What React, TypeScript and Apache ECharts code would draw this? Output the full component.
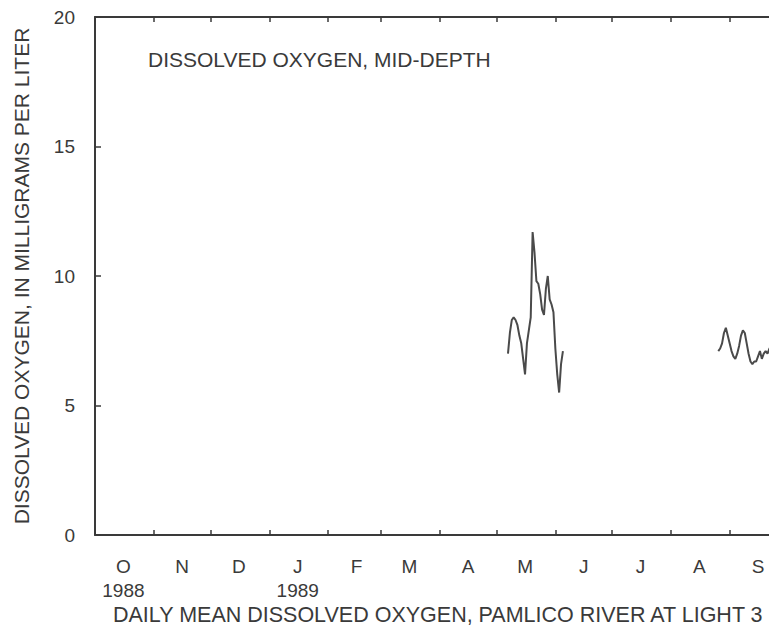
import React, { useEffect, useRef } from "react";
import * as echarts from "echarts";

// Water year axis: Oct 1 1988 .. Sep 26 1989 (daily categories)
const axisStart = "1988-10-01";
const axisDays = 361;
const monthLetters = ["J", "F", "M", "A", "M", "J", "J", "A", "S", "O", "N", "D"];
const yearLabels: Record<string, string> = { "1988-10": "1988", "1989-01": "1989" };
const yTicks = [0, 5, 10, 15, 20];

// Daily mean dissolved oxygen, mg/L
const seg1Start = "1989-05-07";
const seg1Values = [
  7.0, 7.8, 8.3, 8.4, 8.3, 8.1, 7.7, 7.4, 6.8, 6.2, 7.4, 7.9, 8.4, 11.7, 10.9,
  9.8, 9.7, 9.3, 8.7, 8.5, 9.5, 10.0, 9.1, 8.9, 8.6, 7.2, 6.2, 5.5, 6.6, 7.1,
];
const seg2Start = "1989-08-26";
const seg2Values = [
  7.1, 7.2, 7.4, 7.8, 8.0, 7.7, 7.4, 7.1, 6.9, 6.8, 7.0, 7.3, 7.7, 7.9, 7.8,
  7.4, 7.0, 6.7, 6.6, 6.7, 6.7, 6.9, 7.1, 6.8, 7.0, 7.1, 7.0, 7.2, 7.3, 7.3,
  7.4, 7.5,
];

const DAY = 86400000;
const toUTC = (s: string) => {
  const [y, m, d] = s.split("-").map(Number);
  return Date.UTC(y, m - 1, d);
};
const categories: string[] = [];
for (let i = 0; i < axisDays; i++) {
  const dt = new Date(toUTC(axisStart) + i * DAY);
  categories.push(dt.toISOString().slice(0, 10));
}
const idxOf = (s: string) => Math.round((toUTC(s) - toUTC(axisStart)) / DAY);
const toPairs = (start: string, vals: number[]) =>
  vals.map((v, i) => [idxOf(start) + i, v]).filter((p) => p[0] < axisDays);

const INK = "#3a3a3a";
const FONT = "Liberation Sans, Arial, sans-serif";

export default function App() {
  const ref = useRef<HTMLDivElement>(null);
  useEffect(() => {
    if (!ref.current) return;
    const prevOverflow = document.documentElement.style.overflow;
    document.documentElement.style.overflow = "hidden";
    const chart = echarts.init(ref.current, undefined, { renderer: "svg" });
    const tickInterval = (_i: number, v: string) => v.slice(8, 10) === "01";
    const labelInterval = (_i: number, v: string) => v.slice(8, 10) === "16";
    chart.setOption({
      animation: false,
      backgroundColor: "#ffffff",
      grid: {
        left: 87,
        right: 0,
        top: 9,
        bottom: 91,
        containLabel: false,
        outerBoundsMode: "none",
      },
      graphic: [
        {
          type: "text",
          left: 140,
          top: 41,
          style: { text: "DISSOLVED OXYGEN, MID-DEPTH", fill: INK, font: `21px ${FONT}` },
        },
        {
          type: "text",
          left: 105,
          top: 596,
          style: {
            text: "DAILY MEAN DISSOLVED OXYGEN, PAMLICO RIVER AT LIGHT 3",
            fill: INK,
            font: `21.5px ${FONT}`,
          },
        },
      ],
      xAxis: [
        {
          type: "category",
          data: categories,
          boundaryGap: false,
          position: "bottom",
          axisLine: { lineStyle: { color: INK, width: 2 } },
          axisTick: { inside: true, length: 5, interval: tickInterval, lineStyle: { color: INK, width: 1.5 } },
          axisLabel: {
            interval: labelInterval,
            margin: 19,
            color: INK,
            fontFamily: FONT,
            fontSize: 19,
            lineHeight: 24,
            formatter: (v: string) => {
              const m = Number(v.slice(5, 7));
              const y = yearLabels[v.slice(0, 7)];
              return y ? `${monthLetters[m - 1]}\n${y}` : monthLetters[m - 1];
            },
          },
          splitLine: { show: false },
        },
        {
          type: "category",
          data: categories,
          boundaryGap: false,
          position: "top",
          axisLine: { lineStyle: { color: INK, width: 2 } },
          axisTick: { inside: true, length: 5, interval: tickInterval, lineStyle: { color: INK, width: 1.5 } },
          axisLabel: { show: false },
          splitLine: { show: false },
        },
      ],
      yAxis: {
        type: "value",
        min: 0,
        max: 20,
        interval: 5,
        name: "DISSOLVED OXYGEN, IN MILLIGRAMS PER LITER",
        nameLocation: "middle",
        nameGap: 63,
        nameTextStyle: { color: INK, fontFamily: FONT, fontSize: 21 },
        axisLine: { show: true, lineStyle: { color: INK, width: 2 } },
        axisTick: { show: true, inside: true, length: 6, lineStyle: { color: INK, width: 1.5 } },
        axisLabel: {
          color: INK,
          fontFamily: FONT,
          fontSize: 19,
          margin: 20,
          formatter: (v: number) => (yTicks.includes(v) ? String(v) : ""),
        },
        splitLine: { show: false },
      },
      series: [
        {
          type: "line",
          data: toPairs(seg1Start, seg1Values),
          showSymbol: false,
          lineStyle: { color: "#4a4a4a", width: 2 },
        },
        {
          type: "line",
          data: toPairs(seg2Start, seg2Values),
          showSymbol: false,
          lineStyle: { color: "#4a4a4a", width: 2 },
        },
      ],
    });
    return () => {
      chart.dispose();
      document.documentElement.style.overflow = prevOverflow;
    };
  }, []);
  return <div ref={ref} style={{ width: 769, height: 618 }} />;
}
